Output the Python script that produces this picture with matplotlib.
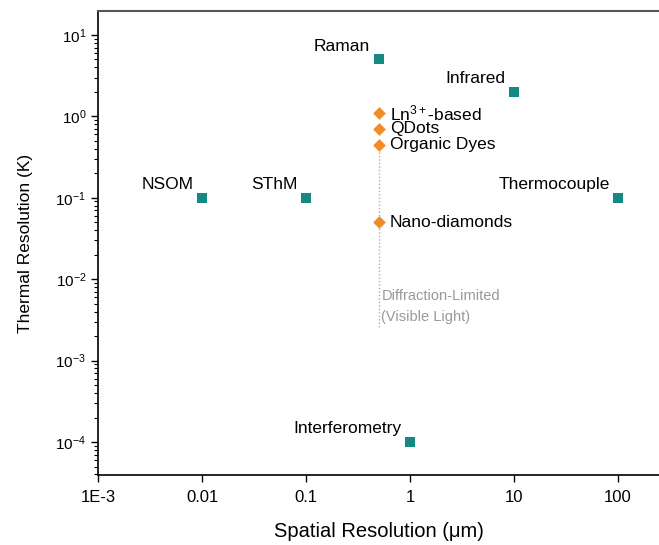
import numpy as np
import matplotlib.pyplot as plt
from matplotlib.ticker import FixedLocator, LogLocator, NullFormatter

plt.rcParams['font.family'] = ['Liberation Sans', 'DejaVu Sans']
plt.rcParams['mathtext.fontset'] = 'custom'
plt.rcParams['mathtext.rm'] = 'Liberation Sans'
plt.rcParams['mathtext.it'] = 'Liberation Sans:italic'
plt.rcParams['mathtext.bf'] = 'Liberation Sans:bold'

# conventional techniques (squares)
methods = ['NSOM', 'SThM', 'Raman', 'Infrared', 'Thermocouple', 'Interferometry']
method_x = [0.01, 0.1, 0.5, 10, 100, 1]
method_y = [0.1, 0.1, 5, 2, 0.1, 1e-4]

# luminescent probes (diamonds)
probes = ['Ln$^{3+}$-based', 'QDots', 'Organic Dyes', 'Nano-diamonds']
probe_x = [0.5, 0.5, 0.5, 0.5]
probe_y = [1.1, 0.7, 0.45, 0.05]

# diffraction limit marker
diff_x = 0.5
diff_y = [0.45, 0.0025]

x_ticks = [1e-3, 0.01, 0.1, 1, 10, 100]
x_labels = ['1E-3', '0.01', '0.1', '1', '10', '100']
y_ticks = [1e-4, 1e-3, 1e-2, 1e-1, 1, 10]

teal = '#168a82'
orange = '#f08c28'

fig = plt.figure(figsize=(6.59, 5.45), dpi=100)
ax = fig.add_axes([98 / 659, 70 / 545, 561 / 659, 464 / 545])
ax.set_xscale('log')
ax.set_yscale('log')
ax.set_xlim(1e-3, 10 ** 2.394)
ax.set_ylim(10 ** -4.405, 10 ** 1.294)

ax.plot([diff_x, diff_x], diff_y, ls=(0, (1, 1.5)), color='#b0b0b0', lw=1, zorder=1)
ax.text(0.53, 0.0075, 'Diffraction-Limited\n(Visible Light)', color='#999999',
        fontsize=10.5, va='top', ha='left', linespacing=1.6)

ax.scatter(method_x, method_y, marker='s', s=55, color=teal, zorder=3, linewidths=0)
ax.scatter(probe_x, probe_y, marker='D', s=42, color=orange, zorder=3, linewidths=0)

for name, x, y in zip(methods, method_x, method_y):
    ax.annotate(name, (x, y), xytext=(-6, 4), textcoords='offset points',
                ha='right', va='bottom', fontsize=12.5)

for name, x, y in zip(probes, probe_x, probe_y):
    ax.annotate(name, (x, y), xytext=(8, 0), textcoords='offset points',
                ha='left', va='center', fontsize=12.5)

ax.xaxis.set_major_locator(FixedLocator(x_ticks))
ax.set_xticklabels(x_labels)
ax.xaxis.set_minor_formatter(NullFormatter())
ax.tick_params(axis='x', which='minor', length=0)
ax.yaxis.set_major_locator(FixedLocator(y_ticks))
ax.set_yticklabels(['$10^{%d}$' % int(np.log10(v)) for v in y_ticks])
ax.yaxis.set_minor_locator(LogLocator(base=10, subs=np.arange(2, 10)))
ax.yaxis.set_minor_formatter(NullFormatter())
ax.tick_params(axis='both', which='major', direction='out', length=5, width=1)
ax.tick_params(axis='x', labelsize=12, pad=6)
ax.tick_params(axis='y', labelsize=11)
ax.tick_params(axis='y', which='minor', direction='out', length=3, width=0.8)

ax.spines['right'].set_visible(False)
ax.spines['top'].set_color('#555555')
ax.spines['top'].set_linewidth(1.5)
for side in ['left', 'bottom']:
    ax.spines[side].set_linewidth(1.2)

ax.set_xlabel('Spatial Resolution (\u03bcm)', fontsize=14.5, labelpad=12)
ax.set_ylabel('Thermal Resolution (K)', fontsize=12.5, labelpad=16)

fig.savefig('out.png', dpi=100)
